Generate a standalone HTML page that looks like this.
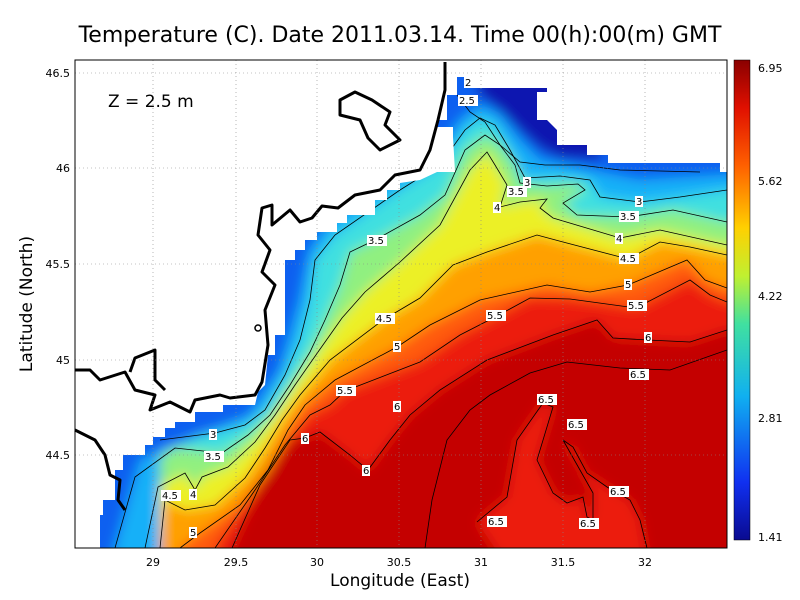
<!DOCTYPE html>
<html><head><meta charset="utf-8"><style>
html,body{margin:0;background:#fff;width:800px;height:600px;overflow:hidden}
svg{position:absolute;left:0;top:0;font-family:"DejaVu Sans","Liberation Sans",sans-serif}
.t{font-size:11px}
.cl{font-size:10px}
</style></head><body>
<svg id="s" width="800" height="600" viewBox="0 0 800 600">
<defs>
<linearGradient id="cb" x1="0" y1="1" x2="0" y2="0">
<stop offset="0" stop-color="#0a0a90"/>
<stop offset="0.12" stop-color="#1030f0"/>
<stop offset="0.3" stop-color="#10b0f0"/>
<stop offset="0.45" stop-color="#40e0a0"/>
<stop offset="0.55" stop-color="#c0f030"/>
<stop offset="0.65" stop-color="#ffd000"/>
<stop offset="0.78" stop-color="#ff6000"/>
<stop offset="0.9" stop-color="#e01000"/>
<stop offset="1" stop-color="#8a0000"/>
</linearGradient>
<filter id="bl" x="-10%" y="-10%" width="120%" height="120%"><feGaussianBlur stdDeviation="6"/></filter>
<clipPath id="d"><path d="M100,548 L100,515 L103,515 L103,500 L115,500 L115,470 L123,470 L123,455 L145,455 L145,445 L153,445 L153,437 L165,437 L165,428 L175,428 L175,422 L195,422 L195,412 L223,412 L223,405 L255,405 L258,392 L265,385 L268,355 L275,355 L275,335 L285,335 L285,260 L295,260 L295,250 L305,250 L305,240 L317,240 L317,232 L337,232 L337,223 L347,223 L347,215 L375,215 L375,200 L387,200 L387,190 L400,190 L400,183 L420,180 L437,172 L455,172 L453,137 L453,127 L437,127 L437,120 L447,120 L447,95 L457,95 L457,77 L467,77 L467,88 L547,88 L547,92 L537,92 L537,120 L547,120 L557,130 L557,145 L587,145 L587,155 L608,155 L608,163 L720,163 L720,172 L727,172 L727,548 Z"/></clipPath>
</defs>
<text x="400" y="42" font-size="22" text-anchor="middle">Temperature (C). Date 2011.03.14. Time 00(h):00(m) GMT</text>
<g clip-path="url(#d)"><g id="field" filter="url(#bl)"></g><g id="cl"></g></g>
<g fill="none" stroke="#000" stroke-width="3" stroke-linejoin="round">
<path d="M75,370 L90,370 L100,380 L125,372 L135,390 L155,395 L150,410 L170,402 L190,412 L195,400 L220,395 L230,398 L255,395 L262,382 L268,345 L265,310 L275,285 L262,272 L270,250 L258,235 L262,208 L272,205 L272,225 L290,210 L300,222 L312,218 L322,206 L338,208 L355,195 L380,190 L395,175 L420,170 L430,150 L438,120 L445,90 L445,62"/>
<path d="M75,430 L95,440 L105,455 L110,475 L120,480 L118,500 L125,510"/>
<path d="M130,372 L135,358 L155,350 L155,380 L165,390"/>
<path d="M340,100 L355,92 L372,100 L390,112 L385,125 L400,140 L380,150 L368,138 L360,120 L340,115 Z"/>
</g>
<circle cx="258" cy="328" r="3" fill="#fff" stroke="#000" stroke-width="1.5"/>
<g stroke="#888" stroke-width="0.6" stroke-dasharray="1,3">
<path d="M153,60V548M236,60V548M317,60V548M399,60V548M481,60V548M563,60V548M645,60V548"/>
<path d="M75,73H727M75,168H727M75,264H727M75,360H727M75,455H727"/>
</g>
<rect x="75" y="60" width="652" height="488" fill="none" stroke="#000" stroke-width="1"/>
<g class="t">
<text x="153" y="566" text-anchor="middle">29</text><text x="236" y="566" text-anchor="middle">29.5</text>
<text x="317" y="566" text-anchor="middle">30</text><text x="399" y="566" text-anchor="middle">30.5</text>
<text x="481" y="566" text-anchor="middle">31</text><text x="563" y="566" text-anchor="middle">31.5</text>
<text x="645" y="566" text-anchor="middle">32</text>
<text x="70" y="77" text-anchor="end">46.5</text><text x="70" y="172" text-anchor="end">46</text>
<text x="70" y="268" text-anchor="end">45.5</text><text x="70" y="364" text-anchor="end">45</text>
<text x="70" y="459" text-anchor="end">44.5</text>
</g>
<text x="400" y="586" font-size="17" text-anchor="middle">Longitude (East)</text>
<text transform="translate(32,304) rotate(-90)" font-size="17" text-anchor="middle">Latitude (North)</text>
<text x="108" y="107" font-size="17">Z = 2.5 m</text>
<rect x="734" y="60" width="16" height="480" fill="url(#cb)" stroke="#000" stroke-width="0.5"/>
<g class="t"><text x="758" y="72">6.95</text><text x="758" y="185">5.62</text><text x="758" y="300">4.22</text><text x="758" y="422">2.81</text><text x="758" y="541">1.41</text></g>
<g class="cl" id="labs"></g>
</svg>
<script>
var NS="http://www.w3.org/2000/svg";
var f=document.getElementById("field"),C=document.getElementById("cl");
function el(t,a,p){var e=document.createElementNS(NS,t);for(var k in a)e.setAttribute(k,a[k]);p.appendChild(e);return e;}
var lines=[
["#18b0f8","160,440 215,433 245,425 265,410 285,375 300,340 310,300 315,260 335,235 400,190 440,165 465,130 480,118 495,125 510,150 525,178 560,176 590,180 600,197 640,202 680,197 727,190"],
["#40e0e0","115,548 135,477 175,448 222,453 248,435 270,415 290,385 310,352 325,320 340,285 350,252 375,240 420,215 445,195 465,150 485,135 500,145 515,165 520,183 547,186 578,184 585,190 563,203 577,215 628,217 673,210 727,222"],
["#90f080","145,548 158,487 185,473 195,490 202,477 228,467 255,442 275,415 295,385 318,352 342,318 365,292 400,262 440,225 470,170 487,152 495,165 507,185 500,207 520,202 547,199 540,208 553,218 620,238 660,230 727,245"],
["#ecf028","160,548 165,500 185,510 215,505 245,478 265,448 282,420 300,395 330,360 383,320 420,298 453,265 487,252 537,235 563,242 628,259 660,242 690,247 727,255"],
["#ffa000","180,548 200,533 240,505 268,470 288,430 305,405 335,380 397,347 430,325 480,300 547,285 590,292 628,285 687,260 705,280 727,288"],
["#ff5a08","215,548 255,490 285,445 310,415 330,405 345,391 420,362 460,335 497,316 530,298 570,299 636,308 690,280 710,295 727,302"],
["#ec1a08","232,548 260,485 290,440 305,438 320,432 350,455 368,470 390,440 410,415 440,390 487,360 553,335 597,320 613,338 648,340 690,342 727,330"],
["#c40404","425,548 432,500 447,440 470,410 490,395 530,373 567,362 620,368 670,370 727,350"]
];
el("rect",{x:0,y:0,width:800,height:600,fill:"#c40404"},f);
for(var i=lines.length-1;i>=0;i--){
 var p=lines[i][1].split(" ");var a=p[0].split(","),b=p[p.length-1].split(",");
 el("polygon",{points:a[0]+",600 "+lines[i][1]+" 800,"+b[1]+" 800,0 0,0 0,600",fill:lines[i][0]},f);
}
el("polygon",{points:"0,0 0,600 100,600 140,460 250,415 280,370 300,300 310,250 330,220 400,175 440,150 460,120 480,105 500,115 520,140 540,160 590,170 640,180 800,170 800,0",fill:"#1060f0"},f);
el("polygon",{points:"480,95 500,110 520,130 540,148 560,158 600,160 600,60 470,60",fill:"#0818b0"},f);
el("polygon",{points:"477,522 507,497 517,440 543,403 553,407 537,460 553,493 567,503 583,497 587,517 593,520 593,493 563,440 573,447 587,473 607,487 630,500 640,520 647,560 503,560",fill:"#ec1a08"},f);
for(var i=0;i<lines.length;i++) el("polyline",{points:lines[i][1],fill:"none",stroke:"#000","stroke-width":0.8},C);
["457,95 470,112 485,122 500,145 520,162 545,165 580,165 620,170 700,172","477,522 507,497 517,440 543,403 553,407 537,460 553,493 567,503 583,497 587,517 593,520 593,493 563,440 573,447 587,473 607,487 630,500 640,520 647,548"].forEach(function(q){el("polyline",{points:q,fill:"none",stroke:"#000","stroke-width":0.8},C);});
var L=[[465,86,"2"],[459,104,"2.5"],[508,195,"3.5"],[524,186,"3"],[494,211,"4"],[620,220,"3.5"],[636,205,"3"],[616,242,"4"],[620,262,"4.5"],[625,288,"5"],[628,309,"5.5"],[645,341,"6"],[630,378,"6.5"],[368,244,"3.5"],[376,322,"4.5"],[487,319,"5.5"],[394,350,"5"],[337,394,"5.5"],[394,410,"6"],[538,403,"6.5"],[568,428,"6.5"],[302,442,"6"],[363,474,"6"],[210,438,"3"],[205,460,"3.5"],[162,499,"4.5"],[190,498,"4"],[190,536,"5"],[610,495,"6.5"],[488,525,"6.5"],[580,527,"6.5"]];
var g=document.getElementById("labs");
L.forEach(function(l){var w=l[2].length*6+2;el("rect",{x:l[0]-1,y:l[1]-9,width:w,height:11,fill:"#fff"},g);var t=el("text",{x:l[0],y:l[1]},g);t.textContent=l[2];});
</script>
</body></html>
